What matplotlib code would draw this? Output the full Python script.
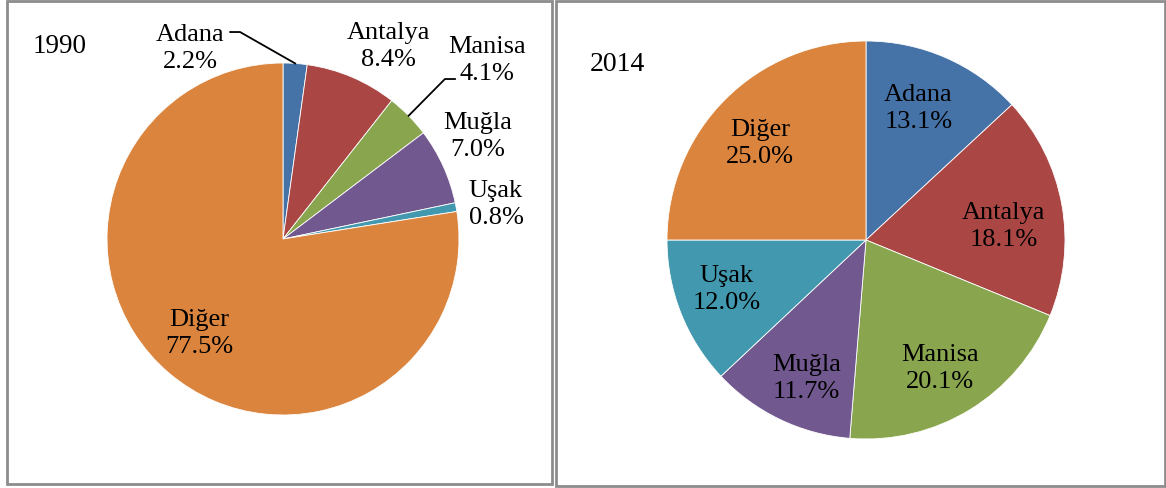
import numpy as np
import matplotlib.pyplot as plt
from matplotlib.patches import Rectangle

plt.rcParams['font.family'] = ['Liberation Serif', 'DejaVu Serif']

labels = ["Adana", "Antalya", "Manisa", "Muğla", "Uşak", "Diğer"]
shares_1990 = [2.2, 8.4, 4.1, 7.0, 0.8, 77.5]
shares_2014 = [13.1, 18.1, 20.1, 11.7, 12.0, 25.0]
colors = ["#4572A7", "#AA4643", "#89A54E", "#71588F", "#4198AF", "#DB843D"]

W, H = 1166, 489
fig = plt.figure(figsize=(W / 100, H / 100), dpi=100)

# panel borders (pixel boxes)
for x0, y0, x1, y1 in [(7, 2, 552, 485), (556, 2, 1165, 487)]:
    fig.patches.append(Rectangle((x0 / W, 1 - y1 / H), (x1 - x0) / W, (y1 - y0) / H,
                                 transform=fig.transFigure, fill=False,
                                 edgecolor="#8c8c8c", linewidth=2))


def pie_panel(cx, cy, r, values, label_pos):
    ax = fig.add_axes([(cx - r) / W, 1 - (cy + r) / H, 2 * r / W, 2 * r / H])
    wedges, _ = ax.pie(values, colors=colors, startangle=90, counterclock=False,
                       radius=1, wedgeprops=dict(edgecolor="white", linewidth=0.6))
    ax.set_xlim(-1, 1)
    ax.set_ylim(-1, 1)
    ax.axis("off")
    for lab, val, (x, y) in zip(labels, values, label_pos):
        ax.text(x, y, f"{lab}\n{val:.1f}%", ha="center", va="center", fontsize=19,
                linespacing=1.3)
    return ax, wedges


# 1990
pos_1990 = [(-0.528, 1.09), (0.597, 1.10), (1.159, 1.02), (1.108, 0.59), (1.21, 0.20), (-0.477, -0.53)]
ax1, wedges1 = pie_panel(283, 240, 176, shares_1990, pos_1990)
# leader lines for Adana and Manisa
for i, (x0, x1, y0) in [(0, (-0.30, -0.244, 1.176)), (2, (0.977, 0.92, 0.909))]:
    w = wedges1[i]
    ang = np.deg2rad((w.theta1 + w.theta2) / 2)
    ax1.plot([x0, x1, np.cos(ang)], [y0, y0, np.sin(ang)],
             color="black", lw=1.3, clip_on=False)
ax1.text(-1.267, 1.102, "1990", ha="center", va="center", fontsize=19.5)

# 2014
pos_2014 = [(0.264, 0.665), (0.693, 0.072), (0.372, -0.642), (-0.299, -0.692), (-0.701, -0.245), (-0.533, 0.49)]
ax2, _ = pie_panel(866, 241, 199, shares_2014, pos_2014)
ax2.text(-1.251, 0.889, "2014", ha="center", va="center", fontsize=20)

fig.savefig("out.png", dpi=100)
